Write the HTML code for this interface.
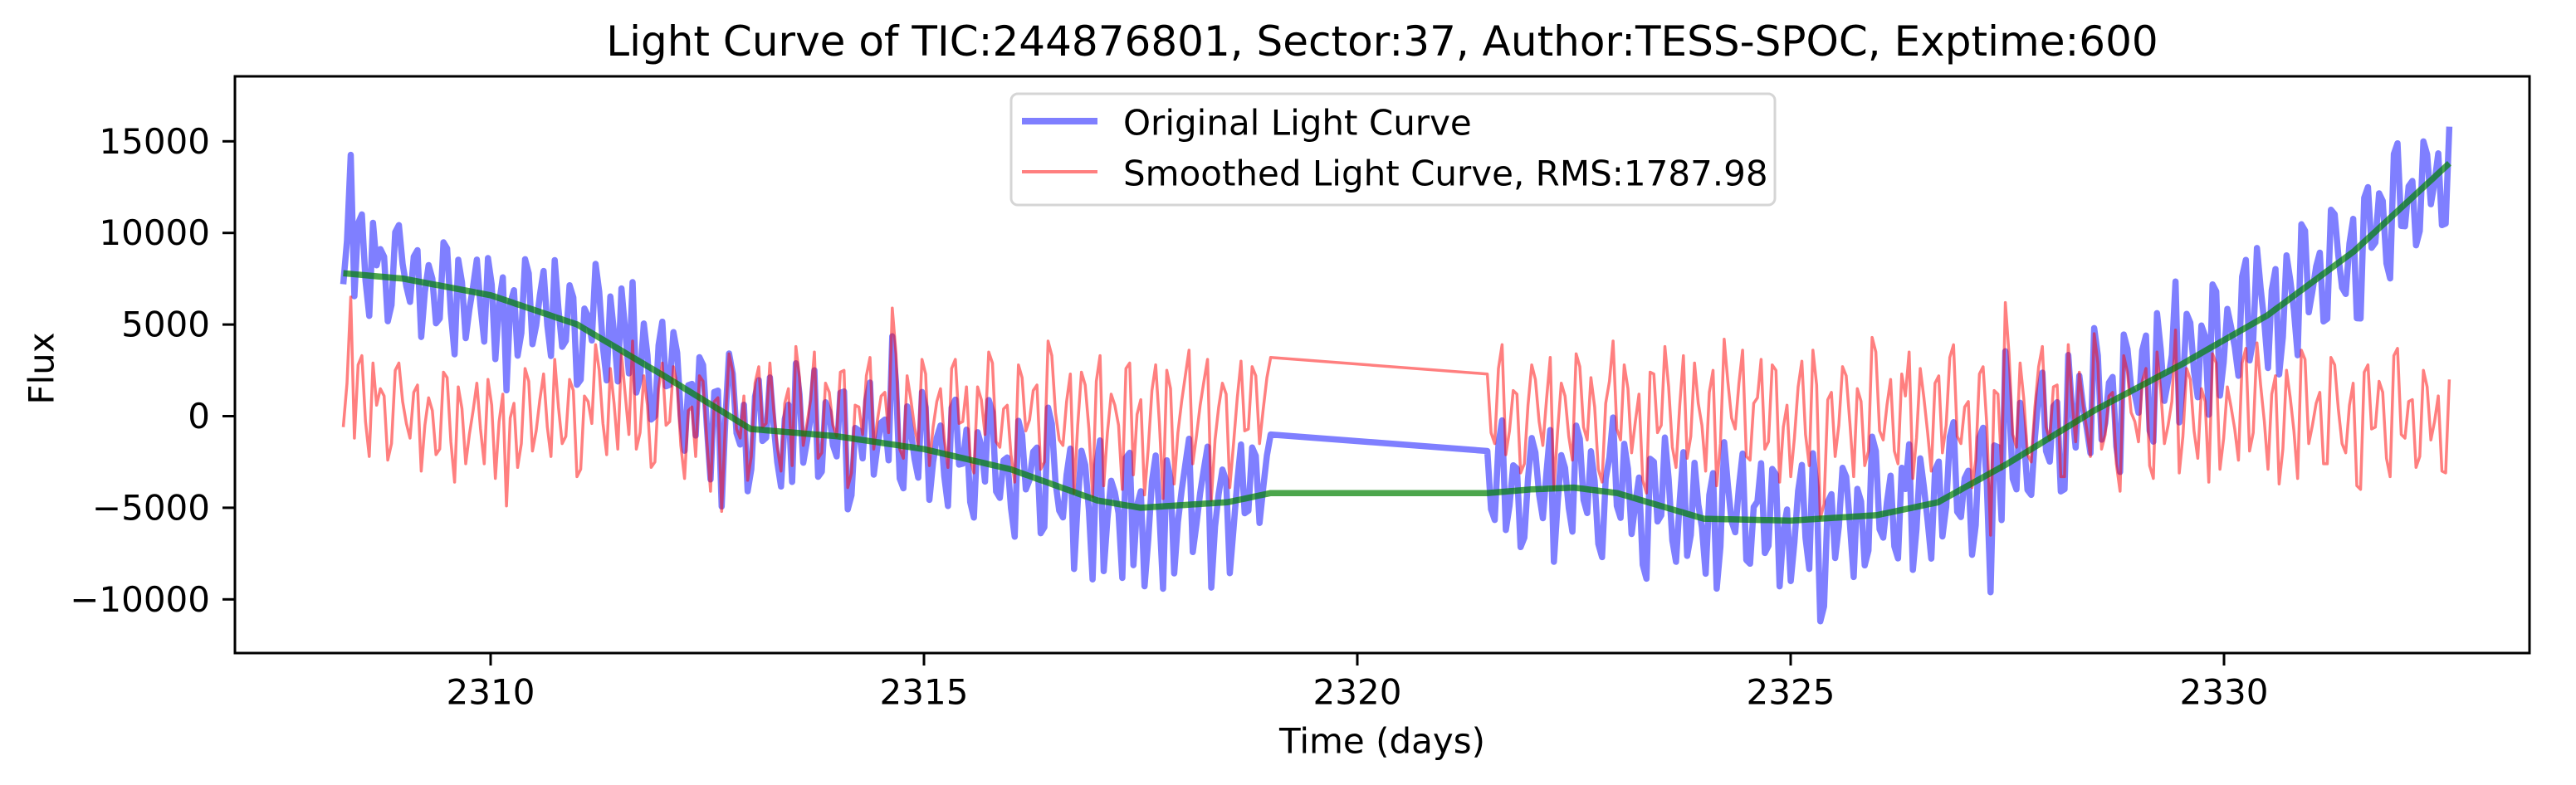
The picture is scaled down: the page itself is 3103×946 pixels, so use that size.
<!DOCTYPE html>
<html><head><meta charset="utf-8"><style>
html,body{margin:0;padding:0;background:#fff;}
svg text{font-family:"DejaVu Sans","Liberation Sans",sans-serif;fill:#000;}
</style></head><body>
<svg id="chart" width="3103" height="941" viewBox="0 0 3103 941" xmlns="http://www.w3.org/2000/svg">
<rect x="0" y="0" width="3103" height="941" fill="#fff"/>
<text x="1665" y="50" font-size="50" text-anchor="middle" dominant-baseline="central">Light Curve of TIC:244876801, Sector:37, Author:TESS-SPOC, Exptime:600</text>
<defs><clipPath id="plotclip"><rect x="283" y="92" width="2764" height="695"/></clipPath></defs>
<g id="series" clip-path="url(#plotclip)"></g>
<rect x="283" y="92" width="2764" height="695" fill="none" stroke="#000" stroke-width="3"/>
<g id="xticks"></g>
<g id="yticks"></g>
<text x="1665" y="893" font-size="42" text-anchor="middle" dominant-baseline="central">Time (days)</text>
<text x="50" y="444" font-size="42" text-anchor="middle" dominant-baseline="central" transform="rotate(-90 50 444)">Flux</text>
<g>
<rect x="1218" y="113" width="920" height="134" rx="8" fill="#fff" fill-opacity="0.8" stroke="#d5d5d5" stroke-width="3"/>
<line x1="1231" y1="146" x2="1322" y2="146" stroke="#0000ff" stroke-opacity="0.5" stroke-width="8"/>
<text x="1353" y="148" font-size="42" dominant-baseline="central">Original Light Curve</text>
<line x1="1231" y1="207" x2="1322" y2="207" stroke="#ff0000" stroke-opacity="0.5" stroke-width="4"/>
<text x="1353" y="209" font-size="42" dominant-baseline="central">Smoothed Light Curve, RMS:1787.98</text>
</g>
</svg>
<script>
// ---- data ----
const seg1Range = [2308.3, 2319.0];
const seg2Range = [2321.5, 2332.6];
const trendTimes = [2308.3,2309,2310,2311,2312,2313,2314,2315,2316,2317,2317.5,2318.5,2319,2321.5,2322,2322.5,2323,2324,2325,2326,2326.7,2327.5,2328.5,2329.5,2330.5,2331.5,2332.6];
const trendFlux = [7800,7500,6600,5000,2200,-700,-1100,-1800,-2900,-4600,-5000,-4700,-4200,-4200,-4000,-3900,-4200,-5600,-5700,-5400,-4700,-2600,300,2800,5500,9000,13800];
const residSeg1 = [-600,6500,2800,-300,2900,1500,-2400,2500,800,-1200,1700,-500,300,-1800,2100,-3600,400,-1000,1800,-2600,600,-300,-4900,700,-1500,1900,-800,2300,-2200,500,-1100,1400,-2900,800,3900,-400,2600,-1800,1200,4100,-900,600,-2500,2900,-300,1700,-3400,500,2200,-1300,800,-5200,3400,-700,1100,-2200,2700,-400,400,-3000,1500,3800,-1600,900,-2300,1800,-500,2400,-3900,600,-1000,3200,-200,1300,5900,-1800,2200,-600,3100,-2700,800,-1200,2600,-400,1600,-3100,900,3500,-1400,400,-2100,2800,-800,1400,-2900,4100,200,-1600,2300,-500,1700,-4400,3300,-900,600,-4000,2900,100,-4300,1400,-400,2500,-3700,800,3600,-1100,1900,-4600,500,1200,-1500,3000,-700,2200,400,3200];
const residSeg1b = [1800,-1200,3300,-2200,600,1100,-1500,2900,-400,1300,-3000,1000,-2100,2400,-1400,1600,-2600,300,-700,2000,-3400,1200,-100,-2800,2600,-1900,900,-600,3100,-1500,2000,-3300,1100,-400,2500,-2100,700,3400,-1000,-1800,2200,-2800,1500,-500,2700,-1600,300,-2200,1900,-4100,1000,-300,2400,-1200,-3500,1800,-600,2900,-1700,700,-2700,2100,-400,3500,-2000,1300,-1100,2500,-3100,500,2200,-1800,1100,-900,3400,-2300,900,-1600,2300,-600,1500,-2800,3100,-300,-2300,1600,-1000,2900,-1700,600,-3600,2100,-200,1700,-2500,3300,-1300,800,-4200,2400,-700,1900,-3800,1200,-500,2600,-3200,900,-1800,2800,-4500,1500,-900,2200,-2600,600,3100,-1300,1800,-3900,1000,-800,2700,-1500,2100];
const residSeg2 = [2300,-1500,3900,-800,1200,-2600,2800,-300,900,-4000,1800,-1100,3400,-600,2100,-2900,700,4100,-1300,1500,-300,-3500,2400,-900,3800,-1700,600,-2300,2900,-500,1300,-3800,4200,-100,1800,-2200,700,3100,-1400,2500,-600,-3300,1600,-1000,3600,-5600,900,-2200,2700,-400,1500,-2700,4300,-800,600,-1900,2300,3500,-1200,1000,-3000,2200,-500,3900,-1500,800,-2400,2700,-6500,1200,6200,-1000,2900,-2100,500,3800,-1300,1700,-3300,900,2400,-700,4500,-1800,1100,-2600,3300,200,-1400,2600,-3400,1400,-500,4700,-1100,2000,-2300,800,3400,-2900,1600,-700,2900,-1900,4000,-300,1200,-3700,2500,-800,3600,-1500,700,-2600,3200,400,-2000,1800,-4000,2800,-600,1300,-3300,3700,-1200,900,-2200,1600,-300,-3000,2000];
const residSeg2b = [-900,2600,-2100,1400,-3100,600,2000,-1600,3200,-800,1100,-2400,2700,-1300,500,-3600,1900,-700,2800,-2000,1200,-4200,2300,-500,1600,-2800,3300,-1100,700,-3000,2500,-1500,1900,-700,3600,-2400,1000,-1800,2800,-3600,600,-1200,3000,-2700,1700,-4800,1300,-500,2200,-3300,800,-1900,3500,-1300,2000,-2600,1100,-3400,2600,-900,1800,-2000,3200,-1100,500,-3900,2300,-500,1400,-2900,3400,-1700,900,-2500,2700,-600,1600,-3300,3900,-1400,600,-2200,2900,-1000,1300,-4100,2400,-300,1900,-2700,3500,-1500,800,-3100,2600,-800,1500,-3600,2900,-1200,500,-2400,3700,-900,1700,-2900,2200,-1800,1000,-3400,3100,-500,1300,-2600,2800,-1500,600,-3800,2400,-700,1900,-2300,3300,-1000,800,-2800,2500,-1300,1100,-3100,1600];
const xTickValues = [2310,2315,2320,2325,2330];
const yTickValues = [-10000,-5000,0,5000,10000,15000];
const yTickLabels = ["\u221210000","\u22125000","0","5000","10000","15000"];

// ---- axes ----
const xScale = t => 1635 + (t - 2320) * 104.4;
const yScale = v => 501.5 - v * (110.4 / 5000);
function trendAt(t){
  if (t <= trendTimes[0]) return trendFlux[0];
  for (let i=1;i<trendTimes.length;i++){
    if (t <= trendTimes[i]){
      const f=(t-trendTimes[i-1])/(trendTimes[i]-trendTimes[i-1]);
      return trendFlux[i-1]+f*(trendFlux[i]-trendFlux[i-1]);
    }
  }
  return trendFlux[trendFlux.length-1];
}
function interleave(a,b){ const o=[]; for(let i=0;i<a.length;i++){ o.push(a[i]); if(i<a.length-1 && i<b.length) o.push(b[i]); } return o; }
function segTimes(range, n){ const a=[]; for(let i=0;i<n;i++) a.push(range[0]+(range[1]-range[0])*i/(n-1)); return a; }
const r1 = interleave(residSeg1, residSeg1b), r2 = interleave(residSeg2, residSeg2b);
const t1 = segTimes(seg1Range, r1.length), t2 = segTimes(seg2Range, r2.length);
const allT = t1.concat(t2), allR = r1.concat(r2);

const NS="http://www.w3.org/2000/svg";
const g=document.getElementById('series');
function poly(pts, color, w, op, name){
  const p=document.createElementNS(NS,'polyline');
  p.setAttribute('points', pts.map(q=>q[0].toFixed(1)+','+q[1].toFixed(1)).join(' '));
  p.setAttribute('fill','none'); p.setAttribute('stroke',color); p.setAttribute('stroke-width',w);
  p.setAttribute('stroke-opacity',op); p.setAttribute('stroke-linejoin','round');
  
  
  g.appendChild(p);
}
const bluePts = allT.map((t,i)=>[xScale(t), yScale(trendAt(t)+allR[i])]);
const redPts = allT.map((t,i)=>[xScale(t), yScale(allR[i])]);
const greenPts = [];
for (let t=seg1Range[0]; t<=seg2Range[1]+1e-9; t+=0.05) greenPts.push([xScale(t), yScale(trendAt(t))]);
poly(bluePts,'#0000ff',7.5,0.5,'original-light-curve');
poly(redPts,'#ff0000',3.5,0.5,'smoothed-light-curve');
poly(greenPts,'#008000',7.5,0.7,'trend-line');

const xt=document.getElementById('xticks');
xTickValues.forEach(v=>{
  const x=xScale(v);
  const l=document.createElementNS(NS,'line');
  l.setAttribute('x1',x);l.setAttribute('x2',x);l.setAttribute('y1',787);l.setAttribute('y2',802);
  l.setAttribute('stroke','#000');l.setAttribute('stroke-width',3);
  
  
  xt.appendChild(l);
  const tx=document.createElementNS(NS,'text');
  tx.setAttribute('x',x);tx.setAttribute('y',834);tx.setAttribute('font-size',42);
  tx.setAttribute('text-anchor','middle');tx.setAttribute('dominant-baseline','central');
  tx.textContent=String(v);
  
  
  xt.appendChild(tx);
});
const yt=document.getElementById('yticks');
yTickValues.forEach((v,i)=>{
  const y=yScale(v);
  const l=document.createElementNS(NS,'line');
  l.setAttribute('x1',268);l.setAttribute('x2',283);l.setAttribute('y1',y);l.setAttribute('y2',y);
  l.setAttribute('stroke','#000');l.setAttribute('stroke-width',3);
  
  
  yt.appendChild(l);
  const tx=document.createElementNS(NS,'text');
  tx.setAttribute('x',253);tx.setAttribute('y',y);tx.setAttribute('font-size',42);
  tx.setAttribute('text-anchor','end');tx.setAttribute('dominant-baseline','central');
  tx.textContent=yTickLabels[i];
  
  
  yt.appendChild(tx);
});
</script>
</body></html>
